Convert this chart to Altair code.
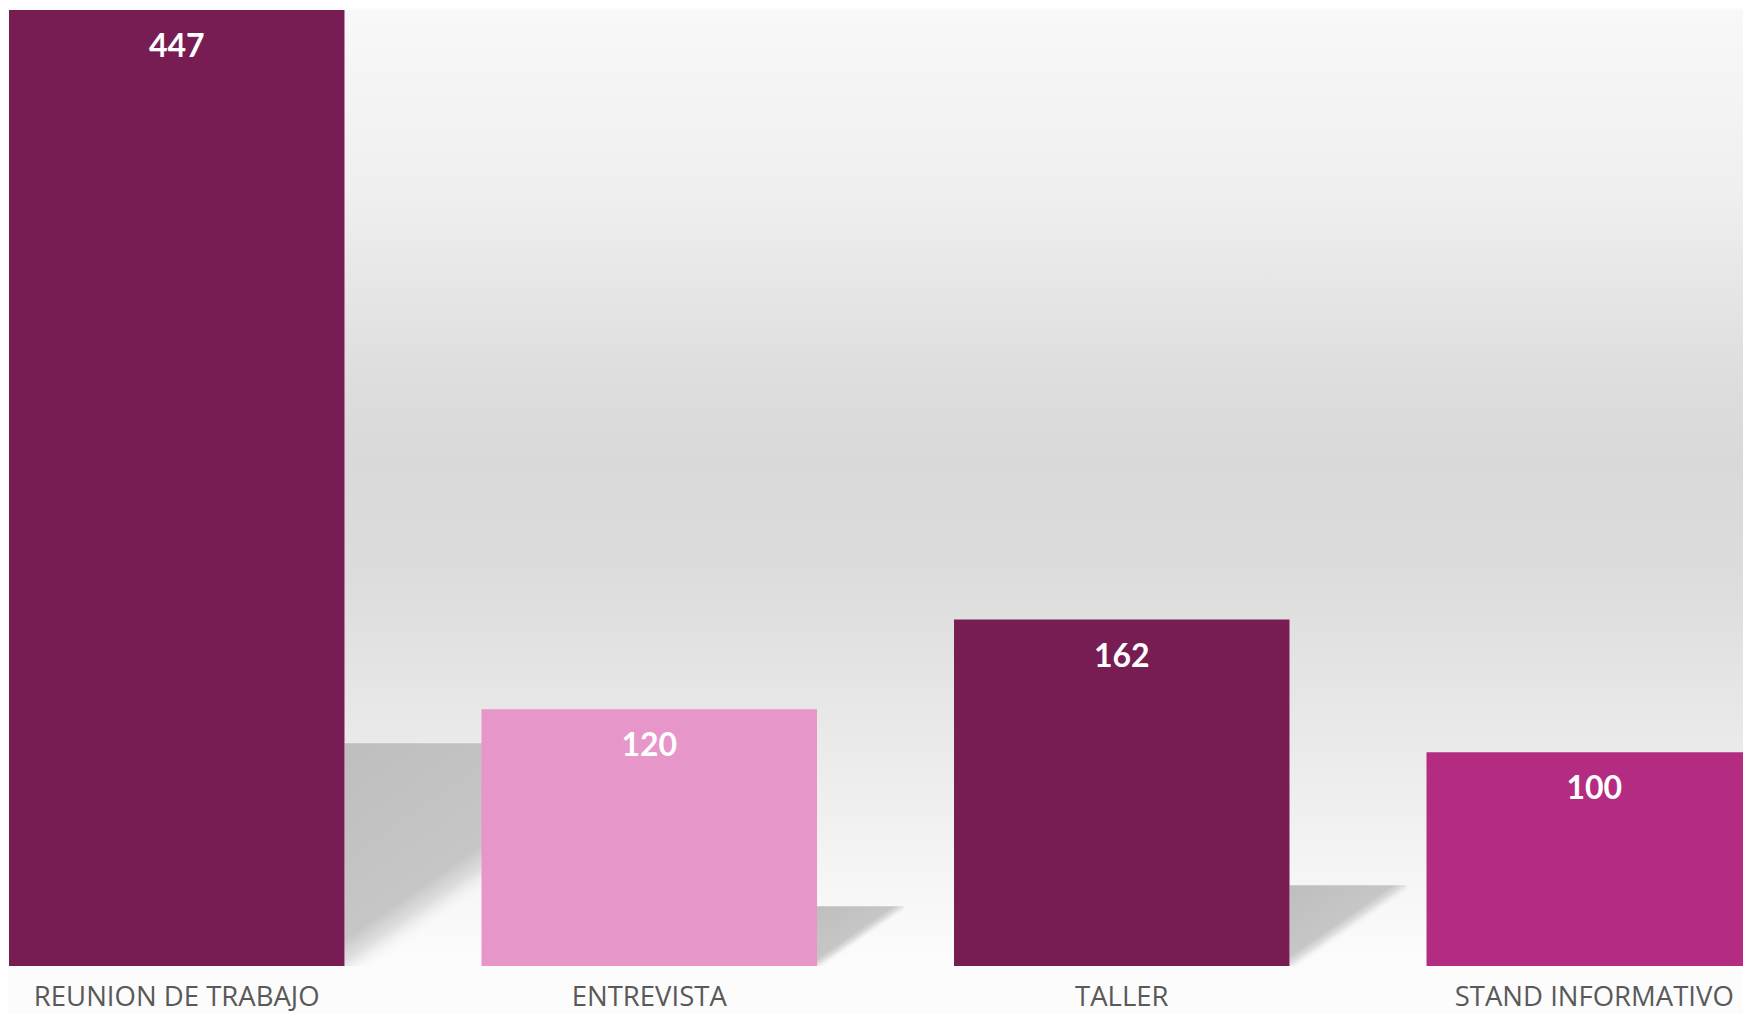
import altair as alt
import pandas as pd

# ---- data ----
categories = ["REUNION DE TRABAJO", "ENTREVISTA", "TALLER", "STAND INFORMATIVO"]
values = [447, 120, 162, 100]
bar_colors = ["#781C54", "#E696C8", "#781C54", "#B42C82"]

# ---- layout/style constants ----
PLOT_W, PLOT_H = 1734, 956
RANGE_W = 1753          # band range (last bar is cut off by the plot edge)
PAD_INNER = 0.29
Y_MAX = 447
N = len(categories)
STEPS = N - PAD_INNER   # range width measured in band steps
STEP_PX = RANGE_W / STEPS
PX_PER_UNIT = PLOT_H / Y_MAX
SHADOW_H = 0.233        # shadow height as a share of the bar value
SHADOW_SLANT = 1.45     # horizontal reach of the shadow per px of height

df = pd.DataFrame({"cat": categories, "value": values, "color": bar_colors})
df["idx"] = range(N)
df["sh"] = df["value"] * SHADOW_H
df["sx"] = df["idx"] + (1 - PAD_INNER)
df["sx2"] = df["sx"] + df["sh"] * PX_PER_UNIT * SHADOW_SLANT / STEP_PX

y_scale = alt.Scale(domain=[0, Y_MAX], nice=False, zero=True)

bg_grad = {
    "gradient": "linear", "x1": 0, "y1": 0, "x2": 0, "y2": 1,
    "stops": [
        {"offset": 0.0, "color": "#f8f8f8"},
        {"offset": 0.19, "color": "#efefef"},
        {"offset": 0.39, "color": "#dddddd"},
        {"offset": 0.47, "color": "#d9d9d9"},
        {"offset": 0.59, "color": "#dcdcdc"},
        {"offset": 0.78, "color": "#ebebeb"},
        {"offset": 0.93, "color": "#f7f7f7"},
        {"offset": 1.0, "color": "#fcfcfc"},
    ],
}

background = alt.Chart(pd.DataFrame({"bg": [0]})).mark_rect(fill=bg_grad).encode(
    x=alt.value(0), x2=alt.value(PLOT_W), y=alt.value(0), y2=alt.value(PLOT_H),
)

shadow_grad = {
    "gradient": "linear", "x1": 0, "y1": 0, "x2": 1, "y2": 1,
    "stops": [
        {"offset": 0.0, "color": "#bebebe"},
        {"offset": 0.44, "color": "#c6c6c6"},
        {"offset": 0.49, "color": "rgba(205,205,205,0.6)"},
        {"offset": 0.55, "color": "rgba(250,250,250,0)"},
        {"offset": 1.0, "color": "rgba(250,250,250,0)"},
    ],
}

shadow = alt.Chart(df).mark_rect(fill=shadow_grad, clip=True).encode(
    x=alt.X("sx:Q", scale=alt.Scale(domain=[0, STEPS], range=[0, RANGE_W], nice=False, zero=False), axis=None),
    x2="sx2:Q",
    y=alt.Y("sh:Q", scale=y_scale, axis=None),
    y2=alt.datum(0),
)

x_enc = alt.X(
    "cat:N", sort=categories,
    scale=alt.Scale(range=[0, RANGE_W], paddingInner=PAD_INNER, paddingOuter=0),
    axis=alt.Axis(
        title=None, ticks=False, domain=False, labelAngle=0,
        labelFont="Open Sans", labelFontSize=27.5, labelColor="#595959",
        labelPadding=17, labelLimit=1000, labelOverlap=False,
    ),
)

bars = alt.Chart(df).mark_bar(clip=True).encode(
    x=x_enc,
    y=alt.Y("value:Q", scale=y_scale, axis=None),
    color=alt.Color("color:N", scale=None),
)

labels = alt.Chart(df).mark_text(
    baseline="alphabetic", dy=47, font="Lato", fontWeight="bold",
    fontSize=32, color="white",
).encode(
    x=alt.X("cat:N", sort=categories),
    y=alt.Y("value:Q", scale=y_scale, axis=None),
    text="value:Q",
)

chart = alt.layer(background, shadow, alt.layer(bars, labels)).resolve_scale(x="independent").properties(
    width=PLOT_W, height=PLOT_H,
    padding={"left": 1, "top": 2, "right": 0, "bottom": 48},
    autosize=alt.AutoSizeParams(type="none"),
    background="#fcfcfc",
).configure_view(strokeWidth=0)

chart.save("out.html", embed_options={"renderer": "svg", "actions": False})
